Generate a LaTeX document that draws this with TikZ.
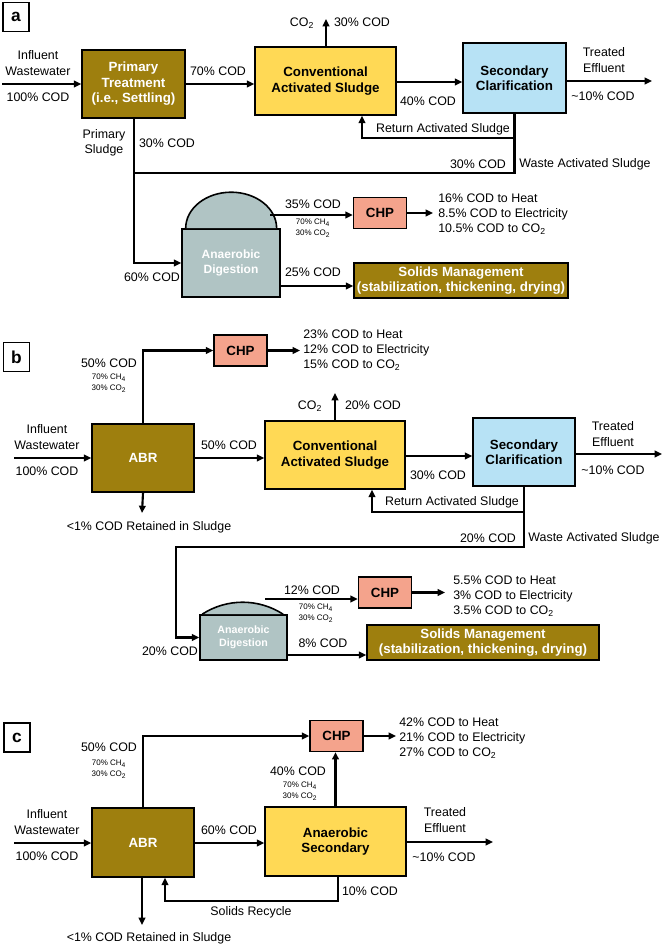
\documentclass[tikz,border=0pt]{standalone}
\usepackage{fontspec}
\setmainfont{Liberation Sans}
\usetikzlibrary{arrows.meta}
\definecolor{gold}{HTML}{9E7F0E}
\definecolor{sunny}{HTML}{FFD955}
\definecolor{skyb}{HTML}{B7E2F5}
\definecolor{salmon}{HTML}{F4A38C}
\definecolor{slate}{HTML}{B0C4C4}
\newcommand{\cod}{\%~COD}
\newcommand{\cotwo}{CO\textsubscript{2}}
\newcommand{\chfour}{CH\textsubscript{4}}
\begin{document}
\begin{tikzpicture}[x=0.75pt, y=-0.75pt,
    unit/.style={rectangle, draw, line width=1.2pt, inner sep=0pt, align=center, font=\fontsize{10}{11.6}\selectfont\bfseries},
    gold/.style={unit, fill=gold, text=white},
    sunny/.style={unit, fill=sunny},
    skyb/.style={unit, fill=skyb},
    chp/.style={unit, fill=salmon, minimum width=39.75pt, minimum height=23pt},
    digester/.style={unit, fill=slate, text=white},
    txt/.style={inner sep=0pt, align=center, font=\fontsize{9.3}{11.5}\selectfont},
    gasmix/.style={inner sep=0pt, align=center, font=\fontsize{6}{8}\selectfont},
    tag/.style={rectangle, draw, line width=1.1pt, minimum width=19.5pt, minimum height=21.5pt, font=\fontsize{13}{13}\selectfont\bfseries},
    flow/.style={line width=1.6pt, -{Triangle[length=5.5pt,width=5pt]}},
    pipe/.style={line width=1.6pt}
]
    \useasboundingbox (0,0) rectangle (664,947);

    % Panel a
    \node[tag] (tagA) at (16,17) {a};
    \node[gold, minimum width=77.25pt, minimum height=51pt] (ptA) at (133.5,84) {Primary\\Treatment\\(i.e., Settling)};
    \node[sunny, minimum width=105.75pt, minimum height=51pt] (casA) at (325.5,81) {Conventional\\Activated Sludge};
    \node[skyb, minimum width=77.25pt, minimum height=52.5pt] (scA) at (514.5,78) {Secondary\\Clarification};
    \node[digester, minimum width=73.5pt, minimum height=51pt, font=\fontsize{9}{11.5}\selectfont\bfseries] (adA) at (231,263) {Anaerobic\\Digestion};
    \draw[line width=1.2pt, fill=slate] (adA.north west) ++(4.5,0) arc[start angle=180, end angle=0, x radius=34.1pt, y radius=27pt];
    \node[chp] (chpA) at (380,213) {CHP};
    \node[gold, minimum width=160.5pt, minimum height=26.25pt] (smA) at (461,280.5) {Solids Management\\(stabilization, thickening, drying)};

    \coordinate (inA) at (2,84);
    \coordinate (co2A) at (326,19);
    \coordinate (outA) at (652,81);
    \coordinate (retA) at (362,138);
    \coordinate (wasA) at (134,173);
    \coordinate (gasA) at (270,215);
    \coordinate (heatA) at (433,213);

    \draw[flow] (inA) -- (ptA.west |- inA);
    \draw[flow] (ptA.east) -- (ptA.east -| casA.west);
    \draw[flow] (casA.north -| co2A) -- (co2A);
    \draw[flow] (casA.east |- 0,82) -- (scA.west |- 0,82);
    \draw[flow] (scA.east |- outA) -- (outA);
    \draw[flow] (scA.south |- retA) -- (retA) -- (retA |- casA.south);
    \draw[pipe] (scA.south) -- (scA.south |- wasA) -- (wasA);
    \draw[flow] (ptA.south -| wasA) -- (wasA |- adA.west) -- (adA.west);
    \draw[flow] (gasA) -- (chpA.west |- gasA);
    \draw[flow] (chpA.east) -- (heatA);
    \draw[flow] (adA.east |- 0,286) -- (smA.west |- 0,286);

    \node[txt] (lInA) at (38,63) {Influent\\Wastewater};
    \node[txt] (lInCodA) at (38,97) {100\cod};
    \node[txt] (l70A) at (218,71) {70\cod};
    \node[txt] (lPsA) at (104,143) {Primary\\Sludge};
    \node[txt] (l30psA) at (167,143) {30\cod};
    \node[txt] (lCo2A) at (302,23) {\cotwo};
    \node[txt] (l30co2A) at (362,22) {30\cod};
    \node[txt] (l40A) at (428,101) {40\cod};
    \node[txt] (lEffA) at (604,60) {Treated\\Effluent};
    \node[txt] (lEffCodA) at (603,96) {\textasciitilde10\cod};
    \node[txt] (lRasA) at (443,129) {Return Activated Sludge};
    \node[txt] (l30wasA) at (478,164) {30\cod};
    \node[txt] (lWasA) at (585,164) {Waste Activated Sludge};
    \node[txt] (l60A) at (152,277) {60\cod};
    \node[txt] (l35A) at (313,204) {35\cod};
    \node[gasmix] (mixA) at (313,228) {70\% \chfour\\30\% \cotwo};
    \node[txt] (l25A) at (313,272) {25\cod};
    \node[txt, anchor=west, align=left] (useA) at (438,214) {16\cod{} to Heat\\8.5\cod{} to Electricity\\10.5\cod{} to \cotwo};

    % Panel b
    \node[tag] (tagB) at (16.5,357) {b};
    \node[chp] (chpB) at (240.5,350.5) {CHP};
    \node[gold, minimum width=76.5pt, minimum height=51pt] (abrB) at (143,458) {ABR};
    \node[sunny, minimum width=105pt, minimum height=51pt] (casB) at (335,455) {Conventional\\Activated Sludge};
    \node[skyb, minimum width=76.5pt, minimum height=51pt] (scB) at (524,452) {Secondary\\Clarification};
    \node[digester, minimum width=65.25pt, minimum height=33.75pt, font=\fontsize{8}{10}\selectfont\bfseries] (adB) at (243.5,637.5) {Anaerobic\\Digestion};
    \draw[line width=1.2pt, fill=slate] (adB.north west) ++(3,0) arc[start angle=123, end angle=57, radius=55.7pt];
    \node[chp] (chpB2) at (385,592.5) {CHP};
    \node[gold, minimum width=174pt, minimum height=26.25pt] (smB) at (483,642.5) {Solids Management\\(stabilization, thickening, drying)};

    \coordinate (inB) at (14,458);
    \coordinate (sludgeB) at (142,513);
    \coordinate (heatB) at (300,350.5);
    \coordinate (co2B) at (335,393);
    \coordinate (outB) at (662,454);
    \coordinate (retB) at (372,512);
    \coordinate (wasB) at (524,547);
    \coordinate (dropB) at (176,547);
    \coordinate (gasB) at (265,599);
    \coordinate (heatB2) at (445,592.5);

    \draw[flow] (abrB.north) |- (chpB.west);
    \draw[flow] (chpB.east) -- (heatB);
    \draw[flow] (inB) -- (abrB.west);
    \draw[flow] (abrB.east) -- (abrB.east -| casB.west);
    \draw[flow] (abrB.south) -- (sludgeB);
    \draw[flow] (casB.north) -- (co2B);
    \draw[flow] (casB.east |- 0,456) -- (scB.west |- 0,456);
    \draw[flow] (scB.east |- outB) -- (outB);
    \draw[flow] (scB.south |- retB) -- (retB) -- (retB |- casB.south);
    \draw[flow] (scB.south) -- (wasB) -- (dropB) -- (dropB |- adB.west) -- (adB.west);
    \draw[flow] (gasB) -- (chpB2.west |- gasB);
    \draw[flow] (chpB2.east) -- (heatB2);
    \draw[flow] (adB.east |- 0,655) -- (smB.west |- 0,655);

    \node[txt] (l50B) at (109,363) {50\cod};
    \node[gasmix] (mixB) at (109,383) {70\% \chfour\\30\% \cotwo};
    \node[txt, anchor=west, align=left] (useB) at (303,350) {23\cod{} to Heat\\12\cod{} to Electricity\\15\cod{} to \cotwo};
    \node[txt] (lInB) at (47,437) {Influent\\Wastewater};
    \node[txt] (lInCodB) at (47,471) {100\cod};
    \node[txt] (l50abrB) at (229,445) {50\cod};
    \node[txt] (lSludgeB) at (149,527) {<1\cod{} Retained in Sludge};
    \node[txt] (lCo2B) at (310,406) {\cotwo};
    \node[txt] (l20co2B) at (373,405) {20\cod};
    \node[txt] (l30B) at (438,475) {30\cod};
    \node[txt] (lEffB) at (613,434) {Treated\\Effluent};
    \node[txt] (lEffCodB) at (613,470) {\textasciitilde10\cod};
    \node[txt] (lRasB) at (452,502) {Return Activated Sludge};
    \node[txt] (l20wasB) at (488,538) {20\cod};
    \node[txt] (lWasB) at (594,538) {Waste Activated Sludge};
    \node[txt] (l20adB) at (170,651) {20\cod};
    \node[txt] (l12B) at (312,590) {12\cod};
    \node[gasmix] (mix2B) at (316,613) {70\% \chfour\\30\% \cotwo};
    \node[txt] (l8B) at (323,643) {8\cod};
    \node[txt, anchor=west, align=left] (use2B) at (453,596) {5.5\cod{} to Heat\\3\cod{} to Electricity\\3.5\cod{} to \cotwo};

    % Panel c
    \node[tag] (tagC) at (17,737.5) {c};
    \node[chp] (chpC) at (336.5,736) {CHP};
    \node[gold, minimum width=76.5pt, minimum height=51.75pt] (abrC) at (143,842.5) {ABR};
    \node[sunny, minimum width=105.75pt, minimum height=51.75pt] (asC) at (335.5,841.5) {Anaerobic\\Secondary};

    \coordinate (inC) at (14,843);
    \coordinate (sludgeC) at (142,925);
    \coordinate (heatC) at (396,736);
    \coordinate (outC) at (493,842);
    \coordinate (recC) at (338,901);
    \coordinate (backC) at (165,901);

    \draw[flow] (abrC.north) |- (chpC.west);
    \draw[flow] (chpC.east) -- (heatC);
    \draw[flow] (inC) -- (abrC.west |- inC);
    \draw[flow] (abrC.east |- inC) -- (asC.west |- inC);
    \draw[flow] (abrC.south -| sludgeC) -- (sludgeC);
    \draw[flow] (asC.north) -- (chpC.south -| asC.north);
    \draw[flow] (asC.east |- outC) -- (outC);
    \draw[flow] (asC.south -| recC) -- (recC) -- (backC) -- (backC |- abrC.south);

    \node[txt] (l50C) at (109,747) {50\cod};
    \node[gasmix] (mixC) at (109,769) {70\% \chfour\\30\% \cotwo};
    \node[txt, anchor=west, align=left] (useC) at (399,738) {42\cod{} to Heat\\21\cod{} to Electricity\\27\cod{} to \cotwo};
    \node[txt] (lInC) at (47,822) {Influent\\Wastewater};
    \node[txt] (lInCodC) at (47,856) {100\cod};
    \node[txt] (l60C) at (229,830) {60\cod};
    \node[txt] (lSludgeC) at (149,938) {<1\cod{} Retained in Sludge};
    \node[txt] (l40C) at (298,771) {40\cod};
    \node[gasmix] (mix2C) at (300,791) {70\% \chfour\\30\% \cotwo};
    \node[txt] (lEffC) at (445,820) {Treated\\Effluent};
    \node[txt] (lEffCodC) at (444,857) {\textasciitilde10\cod};
    \node[txt] (l10C) at (370,891) {10\cod};
    \node[txt] (lRecC) at (251,912) {Solids Recycle};
\end{tikzpicture}
\end{document}
